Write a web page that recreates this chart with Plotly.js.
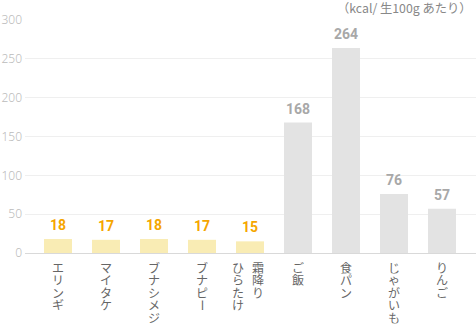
<!DOCTYPE html>
<html><head><meta charset="utf-8">
<script src="https://cdn.plot.ly/plotly-3.0.1.min.js"></script>
<style>html,body{margin:0;padding:0;background:#fff}</style>
</head><body><div id="chart" style="width:476px;height:327px"></div>
<script>
const categories = ["エリンギ","マイタケ","ブナシメジ","ブナピー","霜降り\nひらたけ","ご飯","食パン","じゃがいも","りんご"];
const values = [18,17,18,17,15,168,264,76,57];
const groups = ["mushroom","mushroom","mushroom","mushroom","mushroom","other","other","other","other"];
const yTicks = [0,50,100,150,200,250,300];
const unitNote = "（kcal/ 生100g あたり）";

const barColor = {mushroom:"#f9ecb4", other:"#e3e3e3"};
const labelColor = {mushroom:"#f5a600", other:"#a8a8a8"};
const xIdx = categories.map((_, i) => i);

const trace = {
  type: "bar",
  x: xIdx,
  y: values,
  marker: {color: groups.map(g => barColor[g])},
  width: 0.583,
  hoverinfo: "skip"
};

const annotations = [];
// value labels
values.forEach((v, i) => {
  annotations.push({
    x: i, y: v, xref: "x", yref: "y", text: String(v), showarrow: false,
    yanchor: "bottom", yshift: 4,
    font: {family: "Roboto, 'Noto Sans', sans-serif", size: 14, weight: 700, color: labelColor[groups[i]]}
  });
});
// vertical category labels, one character per line (tategaki)
const pitch = 12.4;
categories.forEach((lab, i) => {
  const cols = lab.split("\n");
  const shifts = cols.length === 1 ? [0] : [7.7, -12];
  cols.forEach((col, c) => {
    Array.from(col).forEach((ch, k) => {
      annotations.push({
        x: i, y: 0, xref: "x", yref: "paper", text: ch, showarrow: false,
        textangle: ch === "ー" ? 90 : 0,
        yanchor: "top", xanchor: "center", xshift: shifts[c], yshift: -(8 + k * pitch),
        height: 11.5, borderpad: 0,
        font: {family: "'Noto Sans CJK JP', sans-serif", size: 12, color: "#666"}
      });
    });
  });
});
annotations.push({
  x: 1, y: 1, xref: "paper", yref: "paper", xanchor: "right", yanchor: "middle",
  xshift: -2, yshift: 12,
  text: unitNote, showarrow: false,
  font: {family: "'Noto Sans CJK JP', sans-serif", size: 12.3, color: "#888"}
});

const layout = {
  width: 476, height: 327,
  margin: {l: 25, r: 0, t: 20, b: 74},
  paper_bgcolor: "#fff", plot_bgcolor: "#fff",
  showlegend: false,
  xaxis: {range: [-0.6875, 8.708], showticklabels: false, showgrid: false, zeroline: false, showline: false, ticks: "", fixedrange: true},
  yaxis: {range: [0, 300], tickvals: yTicks, ticktext: yTicks.map(String), showgrid: true, gridcolor: "#efefef", gridwidth: 1,
          zeroline: true, zerolinecolor: "#d9d9d9", zerolinewidth: 1, showline: false, ticks: "",
          ticklabelstandoff: 2,
          tickfont: {family: "'Noto Sans', sans-serif", size: 12, color: "#bbb", weight: 300}, fixedrange: true},
  annotations: annotations
};
Plotly.newPlot("chart", [trace], layout, {displayModeBar: false, staticPlot: true});
</script>
</body></html>
